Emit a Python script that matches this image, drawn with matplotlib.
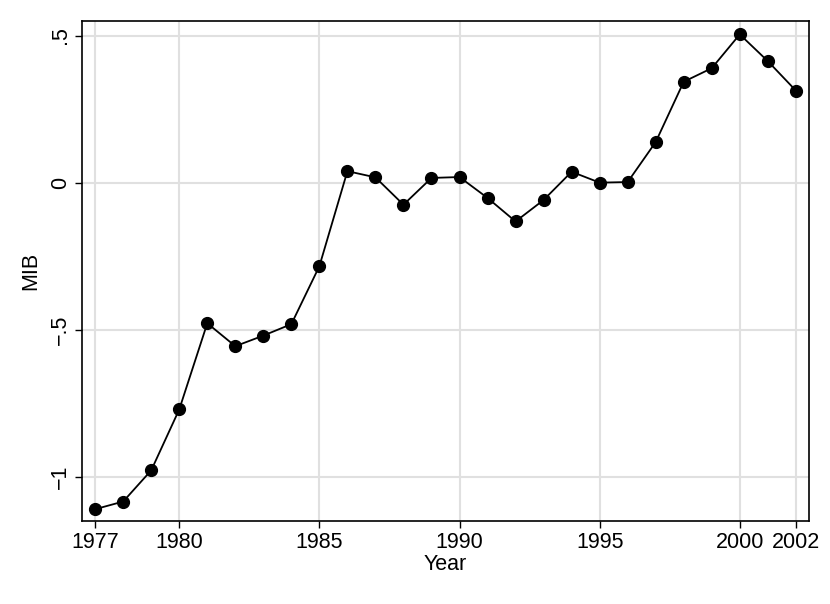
import matplotlib.pyplot as plt

plt.rcParams['font.family'] = ['Liberation Sans', 'DejaVu Sans']

years = list(range(1977, 2003))
mib = [-1.110, -1.084, -0.978, -0.771, -0.478, -0.556, -0.520, -0.481,
       -0.284, 0.039, 0.018, -0.075, 0.016, 0.019, -0.052, -0.132,
       -0.059, 0.037, 0.000, 0.002, 0.138, 0.343, 0.389, 0.504, 0.413, 0.313]

xticks = [1977, 1980, 1985, 1990, 1995, 2000, 2002]
yticks = [-1, -0.5, 0, 0.5]
ylabels = ['\u22121', '\u2212.5', '0', '.5']

fig = plt.figure(figsize=(8.3, 6.04), dpi=100)
ax = fig.add_axes([0.0988, 0.138, 0.8759, 0.827])

ax.plot(years, mib, color='black', lw=1.3, marker='o', ms=8.5, zorder=3)

ax.set_xlim(1976.53, 2002.47)
ax.set_ylim(-1.149, 0.549)
ax.set_xticks(xticks)
ax.set_yticks(yticks)
ax.set_yticklabels(ylabels, rotation=90, va='center')
ax.tick_params(labelsize=15.5, length=5, width=1, direction='out', pad=3)
ax.grid(True, color='#e0e0e0', lw=1.5, zorder=0)
for s in ax.spines.values():
    s.set_linewidth(1.2)

ax.set_xlabel('Year', fontsize=15.5, labelpad=1)
ax.set_ylabel('MIB', fontsize=15.5, labelpad=6)

fig.savefig('out.png', dpi=100)
